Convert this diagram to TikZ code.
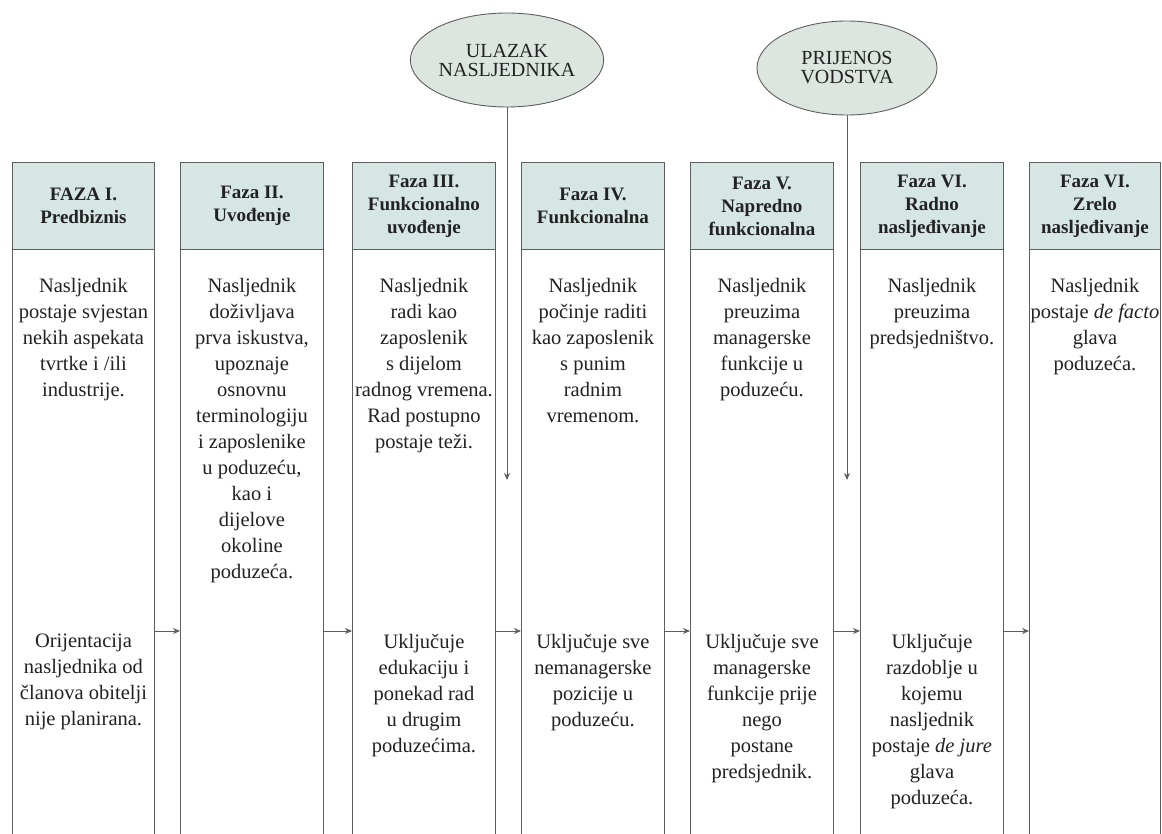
\documentclass[tikz,border=0pt]{standalone}
\usepackage{fontspec}
\setmainfont{Liberation Serif}
\usetikzlibrary{shapes.geometric,arrows.meta,positioning}

\definecolor{headfill}{HTML}{D6E6E4}
\definecolor{ovalfill}{HTML}{DCE5E0}
\definecolor{rulegray}{HTML}{5E5E5E}
\definecolor{inkgray}{HTML}{222222}

\tikzset{
  colbox/.style={draw=rulegray,line width=0.9pt,anchor=north west,minimum height=720pt,inner sep=0pt},
  headbox/.style={draw=rulegray,fill=headfill,line width=0.9pt,anchor=north west,minimum height=87pt,
    inner sep=0pt,align=center,text=inkgray,font=\fontsize{19}{23}\selectfont\bfseries},
  bodytext/.style={anchor=north,align=center,inner sep=0pt,text=inkgray,font=\fontsize{20.5}{26}\selectfont},
  oval/.style={ellipse,draw=rulegray,fill=ovalfill,line width=0.9pt,minimum width=180pt,minimum height=94pt,
    inner sep=0pt,align=center,text=inkgray,font=\fontsize{20}{19}\selectfont},
  arr/.style={draw=rulegray,line width=0.9pt,-{Stealth[length=7pt,width=6pt]}}
}

\begin{document}
\begin{tikzpicture}[x=1pt,y=-1pt]
    \useasboundingbox[fill=white] (0,0) rectangle (1162,834);
    \clip (0,0) rectangle (1162,834);
    \foreach \i/\x/\w/\t in {1/12/142/{FAZA I.\\Predbiznis},
                             2/180/143/{Faza II.\\Uvođenje},
                             3/352/143/{Faza III.\\Funkcionalno\\uvođenje},
                             4/521/143/{Faza IV.\\Funkcionalna},
                             5/690/143/{Faza V.\\Napredno\\funkcionalna},
                             6/860/143/{Faza VI.\\Radno\\nasljeđivanje},
                             7/1029/131/{Faza VI.\\Zrelo\\nasljeđivanje}}{
      \node[colbox,minimum width=\w pt] (c\i) at (\x,162) {};
      \node[headbox,minimum width=\w pt] (h\i) at (\x,162) {\t};
    }
    \node[bodytext,below=28pt of h1] (t1) {Nasljednik\\postaje svjestan\\nekih aspekata\\tvrtke i /ili\\industrije.};
    \node[bodytext,below=28pt of h2] (t2) {Nasljednik\\doživljava\\prva iskustva,\\upoznaje\\osnovnu\\terminologiju\\i zaposlenike\\u poduzeću,\\kao i\\dijelove\\okoline\\poduzeća.};
    \node[bodytext,below=28pt of h3] (t3) {Nasljednik\\radi kao\\zaposlenik\\s dijelom\\radnog vremena.\\Rad postupno\\postaje teži.};
    \node[bodytext,below=28pt of h4] (t4) {Nasljednik\\počinje raditi\\kao zaposlenik\\s punim\\radnim\\vremenom.};
    \node[bodytext,below=28pt of h5] (t5) {Nasljednik\\preuzima\\managerske\\funkcije u\\poduzeću.};
    \node[bodytext,below=28pt of h6] (t6) {Nasljednik\\preuzima\\predsjedništvo.};
    \node[bodytext,below=28pt of h7] (t7) {Nasljednik\\postaje \textit{de facto}\\glava\\poduzeća.};
    \coordinate (lowrow) at (0,634);
    \node[bodytext] (b1) at (c1.north |- lowrow) {Orijentacija\\nasljednika od\\članova obitelji\\nije planirana.};
    \node[bodytext] (b3) at (c3.north |- lowrow) {Uključuje\\edukaciju i\\ponekad rad\\u drugim\\poduzećima.};
    \node[bodytext] (b4) at (c4.north |- lowrow) {Uključuje sve\\nemanagerske\\pozicije u\\poduzeću.};
    \node[bodytext] (b5) at (c5.north |- lowrow) {Uključuje sve\\managerske\\funkcije prije\\nego\\postane\\predsjednik.};
    \node[bodytext] (b6) at (c6.north |- lowrow) {Uključuje\\razdoblje u\\kojemu\\nasljednik\\postaje \textit{de jure}\\glava\\poduzeća.};
    \coordinate (arrowrow) at (0,631);
    \foreach \i/\j in {1/2,2/3,3/4,4/5,5/6,6/7}
      \draw[arr] (c\i.east |- arrowrow) -- (c\j.west |- arrowrow);
    \node[oval] (entry) at (507,60) {ULAZAK\\NASLJEDNIKA};
    \node[oval] (handover) at (847,68) {PRIJENOS\\VODSTVA};
    \coordinate (tiprow) at (0,480);
    \draw[arr] (entry.south) -- (entry.south |- tiprow);
    \draw[arr] (handover.south) -- (handover.south |- tiprow);
\end{tikzpicture}
\end{document}
